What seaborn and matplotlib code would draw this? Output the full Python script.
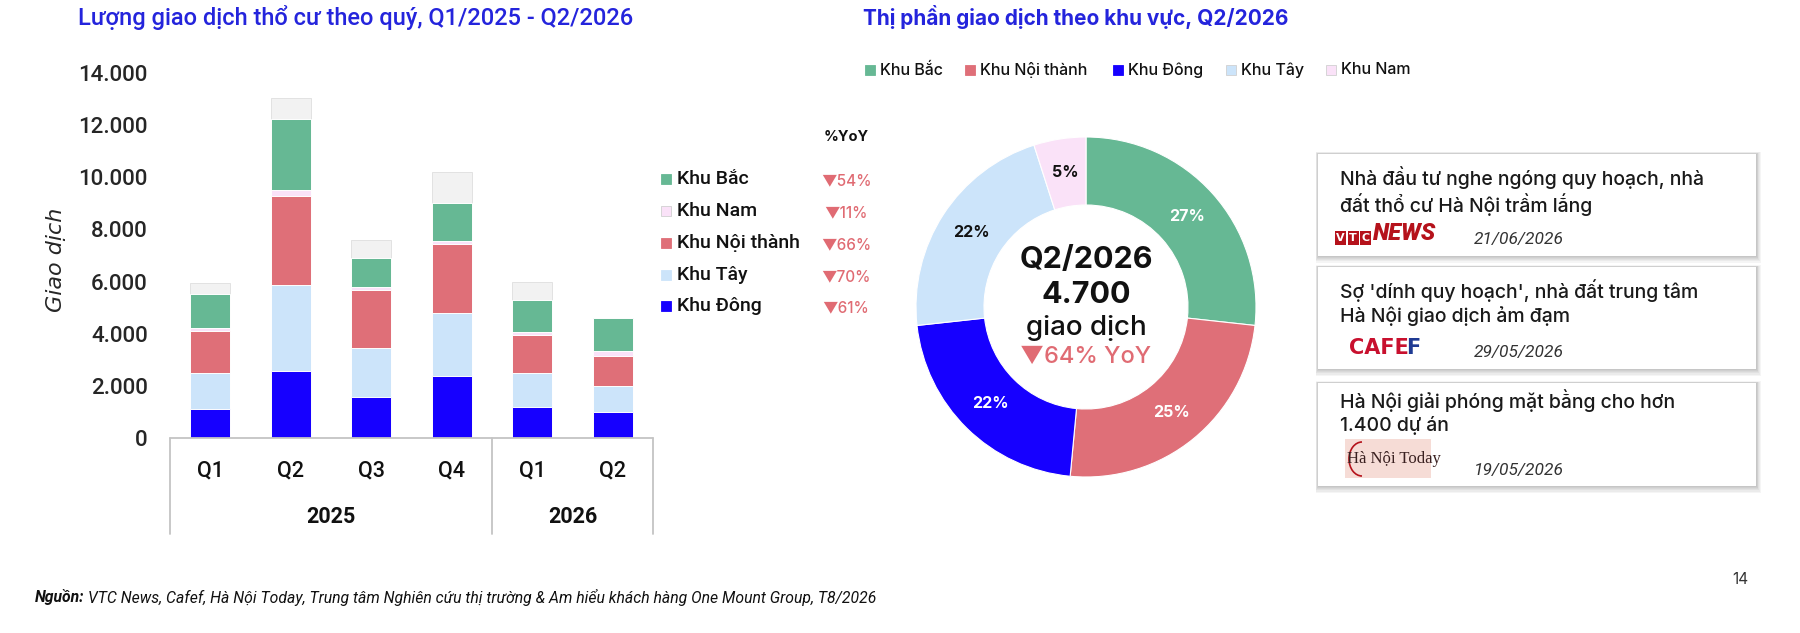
import numpy as np
import pandas as pd
import matplotlib
matplotlib.use("Agg")
import matplotlib.pyplot as plt
import seaborn as sns
from matplotlib.patches import Rectangle, Arc
from matplotlib.transforms import blended_transform_factory
from matplotlib.ticker import FuncFormatter

# ---------------- data ----------------
quarters = ["Q1", "Q2", "Q3", "Q4", "Q1", "Q2"]
years = ["2025", "2025", "2025", "2025", "2026", "2026"]
year_groups = ["2025", "2026"]

khu_dong = [1110, 2580, 1570, 2370, 1190, 1000]
khu_tay = [1380, 3300, 1900, 2430, 1300, 1010]
khu_noi_thanh = [1630, 3400, 2220, 2640, 1450, 1150]
khu_nam = [100, 250, 100, 130, 140, 190]
khu_bac = [1320, 2720, 1100, 1450, 1200, 1270]
khac = [410, 780, 720, 1180, 700, 0]

yticks = [0, 2000, 4000, 6000, 8000, 10000, 12000, 14000]

legend_labels = ["Khu Bắc", "Khu Nam", "Khu Nội thành", "Khu Tây", "Khu Đông"]
yoy_values = [-54, -11, -66, -70, -61]

donut_labels = ["Khu Bắc", "Khu Nội thành", "Khu Đông", "Khu Tây", "Khu Nam"]
donut_share = [27, 25, 22, 22, 5]
donut_period = "Q2/2026"
donut_total = "4.700"
donut_yoy = -64

headlines = [
    "Nhà đầu tư nghe ngóng quy hoạch, nhà\nđất thổ cư Hà Nội trầm lắng",
    "Sợ 'dính quy hoạch', nhà đất trung tâm\nHà Nội giao dịch ảm đạm",
    "Hà Nội giải phóng mặt bằng cho hơn\n1.400 dự án",
]
sources = ["VTC NEWS", "CAFEF", "Hà Nội Today"]
dates = ["21/06/2026", "29/05/2026", "19/05/2026"]

# ---------------- style ----------------
sns.set_theme(style="white")
LEFT_FONT = ["Roboto", "DejaVu Sans"]
RIGHT_FONT = ["Inter", "DejaVu Sans"]
plt.rcParams["font.family"] = LEFT_FONT

colors = {
    "Khu Đông": "#1600ff",
    "Khu Tây": "#cce4fa",
    "Khu Nội thành": "#df6f78",
    "Khu Nam": "#fae2f8",
    "Khu Bắc": "#66b894",
    "Khác": "#f2f2f2",
}
TITLE_BLUE = "#2424dc"
RED = "#e06b73"

W, H = 1800, 633
fig = plt.figure(figsize=(W / 100, H / 100), dpi=100)
fig.patch.set_facecolor("white")


def add_ax(x0, y0, x1, y1):
    return fig.add_axes([x0 / W, 1 - y1 / H, (x1 - x0) / W, (y1 - y0) / H])


def rect_px(x0, y0, x1, y1, **kw):
    r = Rectangle((x0 / W, 1 - y1 / H), (x1 - x0) / W, (y1 - y0) / H,
                  transform=fig.transFigure, **kw)
    fig.add_artist(r)
    return r


def ftext(x, y, s, **kw):
    return fig.text(x / W, 1 - y / H, s, **kw)


# ---------------- stacked bars ----------------
keys = [f"{q} {y}" for q, y in zip(quarters, years)]
layer_names = ["Khu Đông", "Khu Tây", "Khu Nội thành", "Khu Nam", "Khu Bắc", "Khác"]
layer_vals = [khu_dong, khu_tay, khu_noi_thanh, khu_nam, khu_bac, khac]
cum = np.cumsum(np.array(layer_vals, dtype=float), axis=0)

ax = add_ax(170, 73, 653, 438)
for i in reversed(range(len(layer_names))):
    df = pd.DataFrame({"key": keys, "val": cum[i]})
    sns.barplot(data=df, x="key", y="val", order=keys, color=colors[layer_names[i]],
                saturation=1, width=0.5, errorbar=None, ax=ax,
                edgecolor="white" if layer_names[i] != "Khác" else "#e2e2e2",
                linewidth=0.7)

ax.set_ylim(0, 14000)
ax.set_xlim(-0.5, len(keys) - 0.5)
ax.set_yticks(yticks)
ax.yaxis.set_major_formatter(FuncFormatter(lambda v, p: f"{int(v):,}".replace(",", ".")))
ax.tick_params(axis="y", length=0, pad=16, labelsize=16)
for lab in ax.get_yticklabels():
    lab.set_fontweight("medium")
ax.set_xticks([])
ax.set_xlabel("")
ax.set_ylabel("Giao dịch", fontsize=16, fontstyle="italic", family=["DejaVu Sans"])
ax.yaxis.set_label_coords((66 - 170) / 483, (438 - 260) / 365)
for s in ax.spines.values():
    s.set_visible(False)

blend = blended_transform_factory(ax.transData, ax.transAxes)
box_depth = -(534 - 438) / 365
line_kw = dict(color="#c4c4c4", lw=1.3, transform=blend, clip_on=False)
ax.plot([-0.5, len(keys) - 0.5], [0, 0], **line_kw)
bounds = [-0.5]
for i in range(1, len(years)):
    if years[i] != years[i - 1]:
        bounds.append(i - 0.5)
bounds.append(len(years) - 0.5)
for b in bounds:
    ax.plot([b, b], [0, box_depth], **line_kw)
for i, q in enumerate(quarters):
    ax.text(i, -(471 - 438) / 365, q, transform=blend, ha="center", va="center",
            fontsize=15.5, fontweight="medium", color="#111111")
for g in year_groups:
    idx = [i for i, y in enumerate(years) if y == g]
    ax.text(np.mean(idx), -(517 - 438) / 365, g, transform=blend, ha="center",
            va="center", fontsize=15.5, fontweight="bold", color="#111111")

# left legend + YoY column
ftext(846, 137, "%YoY", ha="center", va="center", fontsize=10.5, fontweight="bold",
      family=RIGHT_FONT, color="#111111")
leg_y = [179, 211, 243, 275, 306]
for lbl, yy, yoy in zip(legend_labels, leg_y, yoy_values):
    rect_px(661, yy - 5, 671, yy + 5, facecolor=colors[lbl],
            edgecolor="#d0d0d0" if lbl == "Khu Nam" else colors[lbl], lw=0.6)
    ftext(677, yy, lbl, ha="left", va="center", fontsize=14, color="#111111",
          fontweight="medium")
    arrow = "▼" if yoy < 0 else "▲"
    ftext(846, yy + 2, f"{arrow}{abs(yoy)}%", ha="center", va="center", fontsize=11,
          color=RED, family=RIGHT_FONT, fontweight="medium")

ftext(78, 17, "Lượng giao dịch thổ cư theo quý, Q1/2025 - Q2/2026", ha="left",
      va="center", fontsize=17, color=TITLE_BLUE, fontweight="medium")

# ---------------- donut ----------------
cx, cy, R = 1086, 307, 170
pax = add_ax(cx - R, cy - R, cx + R, cy + R)
wedges, texts = pax.pie(
    donut_share, colors=[colors[l] for l in donut_labels], startangle=90,
    counterclock=False, radius=1, labels=[f"{v}%" for v in donut_share],
    labeldistance=0.80, wedgeprops=dict(width=0.40, edgecolor="white", linewidth=0.8),
    textprops=dict(fontsize=11.5, fontweight="bold", family=RIGHT_FONT))
dark_text = {"Khu Tây", "Khu Nam"}
for t, l in zip(texts, donut_labels):
    t.set_ha("center")
    t.set_va("center")
    t.set_color("#111111" if l in dark_text else "white")
pax.set_xlim(-1, 1)
pax.set_ylim(-1, 1)
pax.set_aspect("equal")
pax.text(0, 47 / R, donut_period, ha="center", va="center", fontsize=22,
         fontweight="bold", family=RIGHT_FONT, color="#111111")
pax.text(0, 12 / R, donut_total, ha="center", va="center", fontsize=22,
         fontweight="bold", family=RIGHT_FONT, color="#111111")
pax.text(0, -21 / R, "giao dịch", ha="center", va="center", fontsize=20,
         fontweight="medium", family=RIGHT_FONT, color="#111111")
pax.text(0, -50 / R, f"{'▼' if donut_yoy < 0 else '▲'}{abs(donut_yoy)}% YoY",
         ha="center", va="center", fontsize=17, fontweight="medium",
         family=RIGHT_FONT, color=RED)

ftext(863, 17, "Thị phần giao dịch theo khu vực, Q2/2026", ha="left", va="center",
      fontsize=15, color=TITLE_BLUE, fontweight="bold", family=RIGHT_FONT)

leg_order = ["Khu Bắc", "Khu Nội thành", "Khu Đông", "Khu Tây", "Khu Nam"]
leg_x = [865, 965, 1113, 1226, 1326]
for lbl, xx in zip(leg_order, leg_x):
    rect_px(xx, 65, xx + 10, 75, facecolor=colors[lbl],
            edgecolor="#d0d0d0" if lbl in ("Khu Nam", "Khu Tây") else colors[lbl], lw=0.6)
    ftext(xx + 15, 70, lbl, ha="left", va="center", fontsize=11.5, color="#111111",
          family=RIGHT_FONT, fontweight="medium")

# ---------------- news cards ----------------
cards_y = [(154, 256), (267, 369), (383, 486)]
text_offsets = [12, 12, 6]
cx0, cx1 = 1318, 1756
for (y0, y1), off, head, src, dt in zip(cards_y, text_offsets, headlines, sources, dates):
    for d in range(6, 0, -1):
        rect_px(cx0 - d * 0.4, y0 - d * 0.3, cx1 + d * 0.8, y1 + d * 1.1, facecolor="#000000",
                alpha=0.04, lw=0)
    rect_px(cx0, y0, cx1, y1, facecolor="white", lw=0)
    ftext(cx0 + 22, y0 + off, head, ha="left", va="top", fontsize=14,
          family=RIGHT_FONT, fontweight="medium", color="#1a1a1a", linespacing=1.25)
    ftext(1474, y1 - 16, dt, ha="left", va="center", fontsize=12.5, fontstyle="italic",
          family=["Roboto", "DejaVu Sans"], color="#333333")

# logos (text based)
for i, ch in enumerate("VTC"):
    rect_px(1335 + i * 12.5, 231, 1335 + i * 12.5 + 11, 245, facecolor="#b5121b", lw=0)
    ftext(1335 + i * 12.5 + 5.5, 238, ch, ha="center", va="center", fontsize=8,
          fontweight="bold", color="white", family=["DejaVu Sans"])
ftext(1373, 234, "NEWS", ha="left", va="center", fontsize=17, fontweight="heavy",
      fontstyle="italic", color="#b5121b", family=["Roboto", "DejaVu Sans"])

ftext(1349, 348, "CAFE", ha="left", va="center", fontsize=15, fontweight="heavy",
      color="#c8102e", family=["DejaVu Sans"])
ftext(1406, 348, "F", ha="left", va="center", fontsize=15, fontweight="heavy",
      color="#1f3a93", family=["DejaVu Sans"])

rect_px(1345, 439, 1431, 478, facecolor="#f6dcd6", lw=0)
arc = Arc((1362 / W, 1 - 459 / H), 26 / W, 34 / H, theta1=90, theta2=270,
          transform=fig.transFigure, color="#b5121b", lw=1.2)
fig.add_artist(arc)
ftext(1394, 459, "Hà Nội Today", ha="center", va="center", fontsize=12,
      family=["Liberation Serif", "DejaVu Serif"], color="#3a2020")

# ---------------- footer ----------------
renderer = fig.canvas.get_renderer()
t0 = ftext(35, 597, "Nguồn:", ha="left", va="center", fontsize=11.3,
           fontweight="bold", fontstyle="italic", color="#111111")
bb = t0.get_window_extent(renderer=renderer)
fig.text((bb.x1 + 4) / W, 1 - 597 / H,
         "VTC News, Cafef, Hà Nội Today, Trung tâm Nghiên cứu thị trường & Am hiểu khách hàng One Mount Group, T8/2026",
         ha="left", va="center", fontsize=11.3, fontstyle="italic", color="#111111")
ftext(1740, 580, "14", ha="center", va="center", fontsize=11, color="#333333",
      family=RIGHT_FONT)

fig.savefig("out.png", dpi=100, facecolor="white")
